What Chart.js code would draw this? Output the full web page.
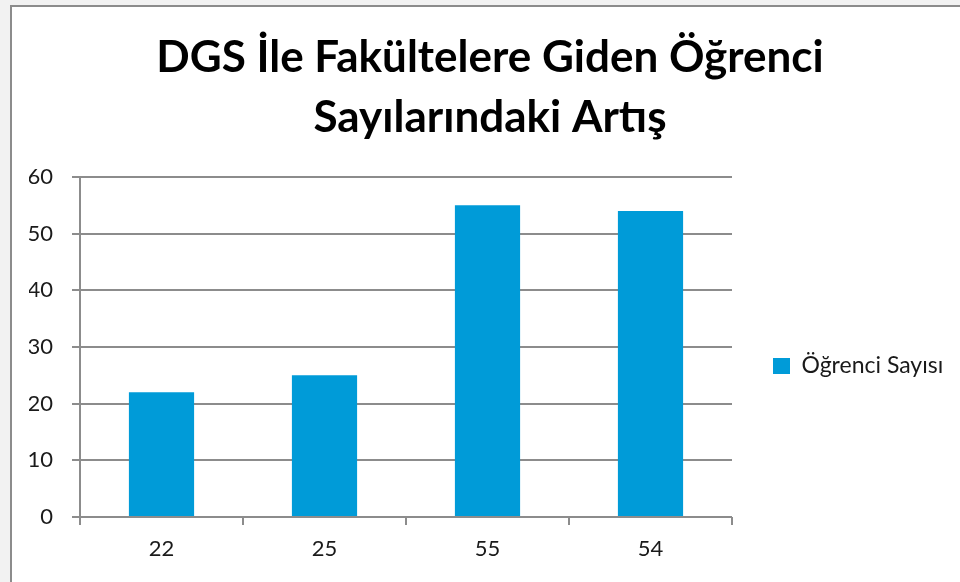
<!DOCTYPE html>
<html>
<head>
<meta charset="utf-8">
<script src="https://cdn.jsdelivr.net/npm/chart.js@4"></script>
<style>
  html, body { margin: 0; padding: 0; background: #f2f2f2; overflow: hidden; }
  #frame { position: absolute; left: 10px; top: 5px; width: 960px; height: 590px; background: #fff;
           border-left: 2px solid #8c8c8c; border-top: 2px solid #8c8c8c; }
  #c { position: absolute; left: 0; top: 0; }
</style>
</head>
<body>
<div id="frame"></div>
<canvas id="c" width="960" height="582"></canvas>
<script>
const titleLines = ['DGS İle Fakültelere Giden Öğrenci', 'Sayılarındaki Artış'];
const categories = ['22', '25', '55', '54'];
const seriesName = 'Öğrenci Sayısı';
const seriesValues = [22, 25, 55, 54];
const yMin = 0;
const yMax = 60;
const yStep = 10;

const barColor = '#009bd8';
const gridColor = '#8c8c8c';
const font = 'Lato, "Open Sans", sans-serif';

new Chart(document.getElementById('c'), {
  type: 'bar',
  data: {
    labels: categories,
    datasets: [{
      label: seriesName,
      data: seriesValues,
      backgroundColor: barColor,
      borderWidth: 0,
      categoryPercentage: 1,
      barPercentage: 0.4,
    }],
  },
  options: {
    responsive: false,
    animation: false,
    layout: { padding: { left: 29, right: 9, top: 10, bottom: 20 } },
    plugins: {
      title: {
        display: true,
        text: titleLines,
        color: '#000',
        font: { family: font, size: 44, weight: 'bold', lineHeight: 1.364 },
        padding: { top: 18, bottom: 29 },
      },
      legend: {
        position: 'right',
        maxWidth: 219,
        // empty title only pushes the legend item down to where the reference has it
        title: { display: true, text: '', font: { size: 10, lineHeight: 1.2 }, padding: { top: 74, bottom: 74 } },
        labels: {
          boxWidth: 17,
          boxHeight: 16,
          padding: 41,
          color: '#1a1a1a',
          font: { family: font, size: 23 },
        },
      },
      tooltip: { enabled: false },
    },
    scales: {
      x: {
        offset: true,
        grid: { display: true, offset: true, drawOnChartArea: false, drawTicks: true, tickLength: 8, color: gridColor, lineWidth: 2 },
        border: { display: false },
        ticks: { color: '#1a1a1a', padding: 11, font: { family: font, size: 22 } },
        afterFit: (s) => { s.height = 45; },
      },
      y: {
        min: yMin,
        max: yMax,
        grid: { color: gridColor, lineWidth: 2, tickLength: 8 },
        border: { display: true, color: gridColor, width: 2 },
        ticks: { stepSize: yStep, color: '#1a1a1a', padding: 19, font: { family: font, size: 22 } },
        afterFit: (s) => { s.width = 51; },
      },
    },
  },
});
</script>
</body>
</html>
